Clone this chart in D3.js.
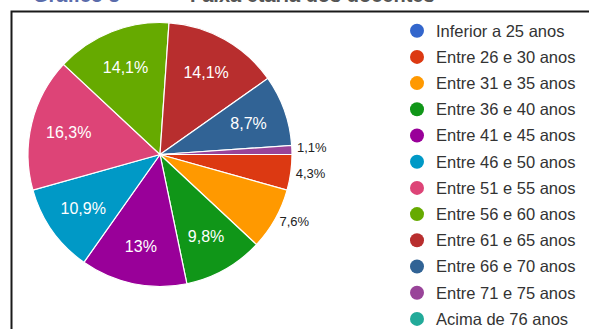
<!DOCTYPE html>
<html>
<head>
<meta charset="utf-8">
<script src="https://cdn.jsdelivr.net/npm/d3@7"></script>
<style>
  html, body { margin: 0; padding: 0; background: #fff; }
  svg { display: block; font-family: "Liberation Sans", Arial, sans-serif; }
</style>
</head>
<body>
<svg id="chart" width="589" height="329"></svg>
<script>
// Age groups of the teaching staff (number of respondents per group)
const categories = [
  "Inferior a 25 anos", "Entre 26 e 30 anos", "Entre 31 e 35 anos",
  "Entre 36 e 40 anos", "Entre 41 e 45 anos", "Entre 46 e 50 anos",
  "Entre 51 e 55 anos", "Entre 56 e 60 anos", "Entre 61 e 65 anos",
  "Entre 66 e 70 anos", "Entre 71 e 75 anos", "Acima de 76 anos"
];
const counts = [0, 4, 7, 9, 12, 10, 15, 13, 13, 8, 1, 0];
const colors = [
  "#3366cc", "#dc3912", "#ff9900", "#109618", "#990099", "#0099c6",
  "#dd4477", "#66aa00", "#b82e2e", "#316395", "#994499", "#22aa99"
];
const titleNumber = "Gráfico 3";
const titleText = "Faixa etária dos docentes";

const svg = d3.select("#chart");
const W = 589, H = 329;

// Title (only its lower edge falls inside the frame)
svg.append("text").attr("x", 33).attr("y", 1.5)
  .attr("font-size", 20).attr("font-weight", "bold").attr("fill", "#5a6cab")
  .text(titleNumber);
svg.append("text").attr("x", 190).attr("y", 1.5)
  .attr("font-size", 20).attr("font-weight", "bold").attr("fill", "#555")
  .text(titleText);

// Frame
svg.append("path")
  .attr("d", `M11.5,${H} V11.5 H${W}`)
  .attr("fill", "none").attr("stroke", "#1a1a1a").attr("stroke-width", 2);

const total = d3.sum(counts);
const data = categories.map((c, i) => ({ cat: c, value: counts[i], color: colors[i] }));

const cx = 160, cy = 154.5, R = 132;
const pie = d3.pie().value(d => d.value).sort(null)
  .startAngle(Math.PI / 2).endAngle(Math.PI / 2 + 2 * Math.PI);
const arcs = pie(data).filter(a => a.data.value > 0);

const arc = d3.arc().innerRadius(0).outerRadius(R);
const g = svg.append("g").attr("transform", `translate(${cx},${cy})`);

g.selectAll("path.slice").data(arcs).join("path")
  .attr("class", "slice")
  .attr("d", arc)
  .attr("fill", d => d.data.color)
  .attr("stroke", "#fff").attr("stroke-width", 1.2);

const fmt = v => {
  const p = Math.round(v / total * 1000) / 10;
  return (Number.isInteger(p) ? p.toFixed(0) : p.toFixed(1)).replace(".", ",") + "%";
};

const inside = arcs.filter(a => a.data.value / total >= 0.08);
const outside = arcs.filter(a => a.data.value / total < 0.08);

const inArc = d3.arc().innerRadius(94).outerRadius(94);
g.selectAll("text.in").data(inside).join("text")
  .attr("class", "in")
  .attr("transform", d => `translate(${inArc.centroid(d)})`)
  .attr("text-anchor", "middle").attr("dy", "0.36em")
  .attr("font-size", 16).attr("fill", "#fff")
  .text(d => fmt(d.data.value));

// Outside labels for thin slices, spread apart vertically when crowded
const outArc = d3.arc().innerRadius(137).outerRadius(137);
const outPos = outside.map(d => {
  const [x, y] = outArc.centroid(d);
  return { d, x, y };
}).sort((a, b) => b.y - a.y);
for (let i = 1; i < outPos.length; i++) {
  if (outPos[i - 1].y - outPos[i].y < 26) outPos[i].y = outPos[i - 1].y - 26;
}
g.selectAll("text.out").data(outPos).join("text")
  .attr("class", "out")
  .attr("x", p => p.x).attr("y", p => p.y)
  .attr("text-anchor", "start").attr("dy", "0.36em")
  .attr("font-size", 13).attr("fill", "#222")
  .text(p => fmt(p.d.data.value));

// Legend
const legend = svg.append("g").attr("transform", "translate(417,30.7)");
const rows = legend.selectAll("g").data(data).join("g")
  .attr("transform", (d, i) => `translate(0,${i * 26.2})`);
rows.append("circle").attr("r", 7).attr("fill", d => d.color);
rows.append("text").attr("x", 19).attr("dy", "0.36em")
  .attr("font-size", 16.5).attr("fill", "#333")
  .text(d => d.cat);
</script>
</body>
</html>
